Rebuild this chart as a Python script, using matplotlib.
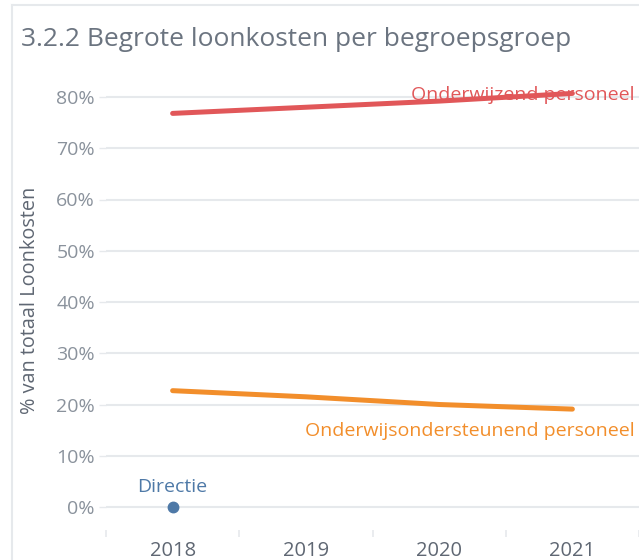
import matplotlib
matplotlib.use("Agg")
import matplotlib.pyplot as plt
from matplotlib.lines import Line2D

# data
years = ["2018", "2019", "2020", "2021"]
onderwijzend = [76.8, 78.0, 79.2, 80.7]
ondersteunend = [22.7, 21.5, 20.0, 19.1]
directie = [0.0]
yticks = [0, 10, 20, 30, 40, 50, 60, 70, 80]

RED = "#e15759"
ORANGE = "#f28e2b"
BLUE = "#4e79a7"
GRID = "#e6e9ec"

plt.rcParams['font.family'] = ['Open Sans', 'DejaVu Sans']

W, H = 639, 560
fig = plt.figure(figsize=(W / 100, H / 100), dpi=100)
# axes in pixel terms: x 106..639, y 70..530
ax = fig.add_axes([106 / W, 1 - 530 / H, 533 / W, 460 / H])

x = list(range(len(years)))
ax.plot(x, onderwijzend, color=RED, lw=3.6, solid_capstyle='round', zorder=3)
ax.plot(x, ondersteunend, color=ORANGE, lw=3.6, solid_capstyle='round', zorder=3)
ax.plot(x[:len(directie)], directie, 'o', color=BLUE, ms=7.5, zorder=3)

ax.set_xlim(-0.5, len(years) - 0.5)
ax.set_ylim(-(530 - 507) / 5.125, (507 - 70) / 5.125)

ax.set_yticks(yticks)
ax.set_yticklabels([f"{v}%" for v in yticks])
ax.yaxis.grid(True, color=GRID, lw=1.5)
ax.set_axisbelow(True)
ax.tick_params(axis='y', length=5, color=GRID, width=1, pad=3,
               labelsize=14, labelcolor="#8a929c")

ax.set_xticks(x)
ax.set_xticklabels(years)
ax.set_xticks([i - 0.5 for i in range(len(years) + 1)], minor=True)
ax.tick_params(axis='x', which='major', length=0, pad=8,
               labelsize=14.5, labelcolor="#5f6773")
ax.tick_params(axis='x', which='minor', length=5, color=GRID, width=1.2)

for s in ax.spines.values():
    s.set_visible(False)

ax.set_ylabel("% van totaal Loonkosten", fontsize=14.3, color="#5f6773")
ax.yaxis.set_label_coords(-0.124, 0.5)

# mark labels
ax.annotate("Onderwijzend personeel", xy=(x[-1], onderwijzend[-1]),
            xytext=(45, -1), textcoords='offset points', ha='right', va='center',
            color=RED, fontsize=14, zorder=2)
ax.annotate("Onderwijsondersteunend personeel", xy=(x[-1], ondersteunend[-1]),
            xytext=(45, -16), textcoords='offset points', ha='right', va='center',
            color=ORANGE, fontsize=14)
ax.annotate("Directie", xy=(0, directie[0]),
            xytext=(0, 14.5), textcoords='offset points', ha='center', va='center',
            color=BLUE, fontsize=14)

fig.text(21 / W, 1 - 40 / H, "3.2.2 Begrote loonkosten per begroepsgroep",
         fontsize=19, color="#6b7480", ha='left', va='center')

# panel border (top and left)
fig.add_artist(Line2D([12 / W, 12 / W], [0, 1 - 5 / H], transform=fig.transFigure,
                      color=GRID, lw=1.5))
fig.add_artist(Line2D([12 / W, 1], [1 - 5 / H, 1 - 5 / H], transform=fig.transFigure,
                      color=GRID, lw=1.5))

fig.savefig("out.png", dpi=100)
